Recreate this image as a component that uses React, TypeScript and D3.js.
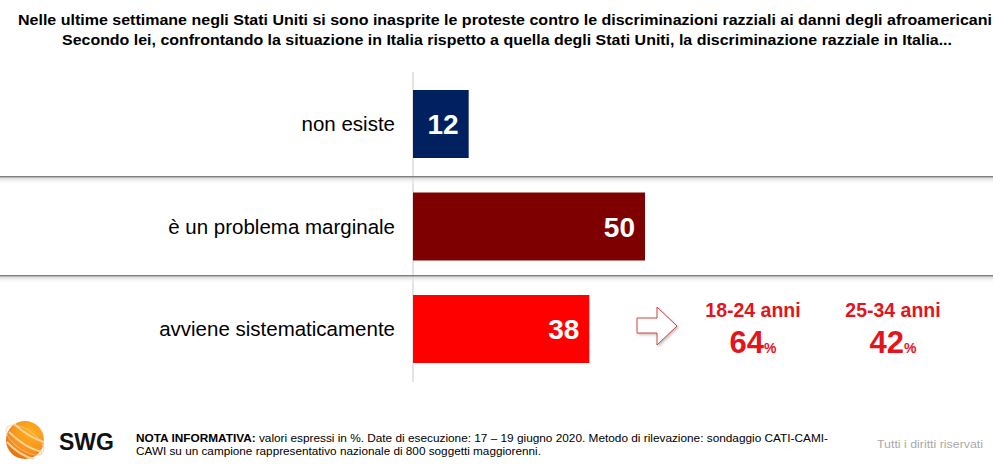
import React from "react";
import * as d3 from "d3";

const categories = ["non esiste", "è un problema marginale", "avviene sistematicamente"];
const values = [12, 50, 38];
const barColors = ["#002060", "#7f0000", "#ff0000"];
const ageGroups = ["18-24 anni", "25-34 anni"];
const ageValues = [64, 42];
const titleLines = [
  "Nelle ultime settimane negli Stati Uniti si sono inasprite le proteste contro le discriminazioni razziali ai danni degli afroamericani",
  "Secondo lei, confrontando la situazione in Italia rispetto a quella degli Stati Uniti, la discriminazione razziale in Italia...",
];

const W = 993;
const H = 468;
const FONT = "Liberation Sans, Arial, sans-serif";
const RED = "#e3141b";

export default function App() {
  const x = d3.scaleLinear().domain([0, 100]).range([413, 877]);
  const barH = 68;
  const rowCenters = [124, 226.5, 329];
  const separators = [176.7, 275.7];
  const ageX = d3.scalePoint<string>().domain(ageGroups).range([753, 893]);

  return (
    <svg width={W} height={H} style={{ position: "absolute", left: 0, top: 0, background: "#fff" }}>
      <defs>
        <linearGradient id="sep" x1="0" y1="0" x2="0" y2="1">
          <stop offset="0" stopColor="#d8d8d8" />
          <stop offset="1" stopColor="#ffffff" stopOpacity="0" />
        </linearGradient>
        <radialGradient id="globe" cx="0.65" cy="0.3" r="0.8">
          <stop offset="0" stopColor="#ffb020" />
          <stop offset="0.6" stopColor="#f7941d" />
          <stop offset="1" stopColor="#e06a10" />
        </radialGradient>
        <filter id="arrowShadow" x="-20%" y="-20%" width="150%" height="150%">
          <feDropShadow dx="1.5" dy="1.5" stdDeviation="1.2" floodColor="#999" floodOpacity="0.6" />
        </filter>
      </defs>
      <rect width={W} height={H} fill="#fff" />

      <text x={18} y={24.5} textLength={974} lengthAdjust="spacingAndGlyphs"
        fontFamily={FONT} fontWeight="bold" fontSize={15.5} fill="#000">
        {titleLines[0]}
      </text>
      <text x={62} y={45} textLength={890} lengthAdjust="spacingAndGlyphs"
        fontFamily={FONT} fontWeight="bold" fontSize={15.5} fill="#000">
        {titleLines[1]}
      </text>

      {/* vertical axis */}
      <line x1={x(0)} x2={x(0)} y1={72} y2={382} stroke="#c8c8c8" strokeWidth={1} />

      {/* separators */}
      {separators.map((y, i) => (
        <g key={i}>
          <rect x={0} y={y + 1} width={W} height={7} fill="url(#sep)" />
          <line x1={0} x2={W} y1={y} y2={y} stroke="#7f7f7f" strokeWidth={1.6} />
        </g>
      ))}

      {values.map((v, i) => (
        <g key={i}>
          <rect
            x={x(0)}
            y={rowCenters[i] - barH / 2}
            width={x(v) - x(0)}
            height={barH}
            fill={barColors[i]}
          />
          <text
            x={x(v) - 10}
            y={rowCenters[i] + 10}
            textAnchor="end"
            fontFamily={FONT}
            fontWeight="bold"
            fontSize={28}
            fill="#fff"
          >
            {v}
          </text>
          <text
            x={395}
            y={rowCenters[i] + 7}
            textAnchor="end"
            fontFamily={FONT}
            fontSize={20.5}
            fill="#000"
          >
            {categories[i]}
          </text>
        </g>
      ))}

      {/* arrow */}
      <path
        d="M637,318 L657,318 L657,307 L677,326 L657,345 L657,333 L637,333 Z"
        fill="#fff"
        stroke="#d04040"
        strokeWidth={1}
        filter="url(#arrowShadow)"
      />

      {ageGroups.map((g, i) => (
        <g key={g}>
          <text
            x={ageX(g)}
            y={317}
            textAnchor="middle"
            fontFamily={FONT}
            fontWeight="bold"
            fontSize={19.5}
            fill={RED}
          >
            {g}
          </text>
          <text
            x={ageX(g)}
            y={353}
            textAnchor="middle"
            fontFamily={FONT}
            fontWeight="bold"
            fontSize={31}
            fill={RED}
          >
            {ageValues[i]}
            <tspan fontSize={14}>%</tspan>
          </text>
        </g>
      ))}

      {/* footer logo */}
      <g>
        <circle cx={25} cy={440} r={19} fill="url(#globe)" />
        <path d="M9,432 Q25,448 42,452" fill="none" stroke="#ffd9a0" strokeWidth={2} opacity={0.9} />
        <path d="M7,442 Q20,456 34,459" fill="none" stroke="#ffd9a0" strokeWidth={2} opacity={0.9} />
        <path d="M14,424 Q30,438 44,442" fill="none" stroke="#ffd9a0" strokeWidth={2} opacity={0.9} />
        <ellipse cx={25} cy={440} rx={22} ry={10} transform="rotate(35 25 440)" fill="none" stroke="#f0c8a0" strokeWidth={1} opacity={0.7} />
        <text x={59} y={450} fontFamily={FONT} fontWeight="bold" fontSize={23} fill="#111">
          SWG
        </text>
      </g>

      <text x={136} y={442} textLength={692} lengthAdjust="spacingAndGlyphs" fontFamily={FONT} fontSize={11} fill="#000">
        <tspan fontWeight="bold">NOTA INFORMATIVA:</tspan> valori espressi in %. Date di esecuzione: 17 – 19 giugno 2020. Metodo di rilevazione: sondaggio CATI-CAMI-
      </text>
      <text x={136} y={455} textLength={405} lengthAdjust="spacingAndGlyphs" fontFamily={FONT} fontSize={11} fill="#000">
        CAWI su un campione rappresentativo nazionale di 800 soggetti maggiorenni.
      </text>
      <text x={877} y={448} textLength={106} lengthAdjust="spacingAndGlyphs" fontFamily={FONT} fontSize={11} fill="#aaa">
        Tutti i diritti riservati
      </text>
    </svg>
  );
}
